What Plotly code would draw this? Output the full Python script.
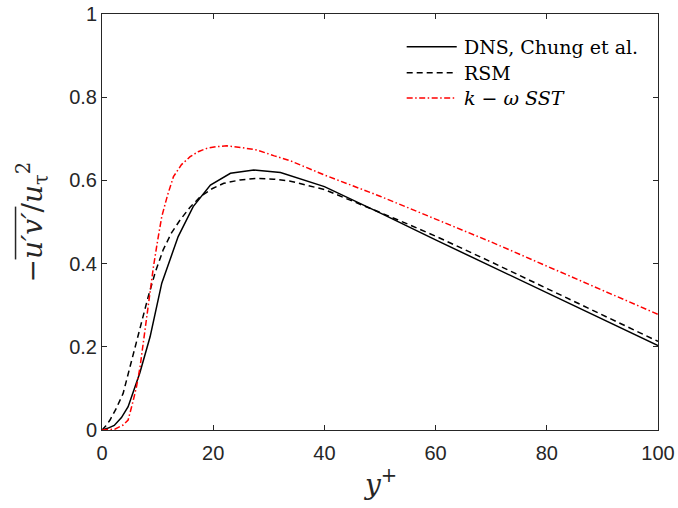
import plotly.graph_objects as go

# DNS, Chung et al.
dns_y = [0, 1, 2.2, 3.5, 4.7, 6.8, 8.65, 10.75, 13.7, 16.4, 19.5, 23.1, 27.3, 32.1,
         40, 50, 60, 70, 80, 90, 100]
dns_uv = [0, 0.004, 0.011, 0.03, 0.056, 0.137, 0.224, 0.353, 0.465, 0.537, 0.589, 0.617,
          0.625, 0.619, 0.585, 0.522, 0.457, 0.394, 0.330, 0.266, 0.203]

# RSM
rsm_y = [0, 0.7, 1.44, 2.5, 3.8, 5, 6.25, 7.3, 8.3, 9.6, 11, 12.5, 14.05, 15.8, 17.7,
         19.8, 21.9, 24.8, 27.9, 30.9, 33.9, 40, 45, 50, 55, 60, 70, 80, 90, 100]
rsm_uv = [0, 0.01, 0.024, 0.05, 0.088, 0.15, 0.216, 0.27, 0.32, 0.38, 0.433, 0.474,
          0.505, 0.535, 0.561, 0.58, 0.593, 0.601, 0.605, 0.603, 0.598, 0.578, 0.551,
          0.523, 0.495, 0.466, 0.404, 0.34, 0.277, 0.213]

# k-omega SST
sst_y = [0, 1, 2.3, 3.8, 4.7, 5.6, 6.2, 6.85, 7.45, 8.05, 8.65, 9.25, 10, 10.75, 11.8,
         12.85, 14.3, 15.85, 17.3, 18.85, 20.5, 22.45, 25, 27.9, 31, 33.9, 40, 50, 60,
         70, 80, 90, 100]
sst_uv = [0, 0.001, 0.002, 0.012, 0.024, 0.07, 0.104, 0.152, 0.215, 0.28, 0.337, 0.392,
          0.455, 0.513, 0.565, 0.609, 0.638, 0.657, 0.669, 0.677, 0.681, 0.683, 0.679,
          0.673, 0.659, 0.647, 0.613, 0.562, 0.507, 0.452, 0.394, 0.336, 0.278]

x_ticks = [0, 20, 40, 60, 80, 100]
y_ticks = [0, 0.2, 0.4, 0.6, 0.8, 1]
y_labels = ["0", "0.2", "0.4", "0.6", "0.8", "1"]

series = [
    ("DNS, Chung et al.", dns_y, dns_uv, "black", "solid"),
    ("RSM", rsm_y, rsm_uv, "black", "6px,4px"),
    ("<i>k</i> − <i>ω SST</i>", sst_y, sst_uv, "red", "6px,2.5px,1.5px,2.5px"),
]

serif = "DejaVu Serif"
sans = "Liberation Sans"
ink = "#262626"

fig = go.Figure()
for name, xs, ys, color, dash in series:
    fig.add_trace(go.Scatter(x=xs, y=ys, mode="lines", name=name, showlegend=False,
                             line=dict(color=color, width=1.5, dash=dash)))

axis_common = dict(showline=True, linecolor=ink, linewidth=1, mirror="ticks",
                   ticks="inside", ticklen=5, tickcolor=ink, showgrid=False,
                   zeroline=False, automargin=False,
                   tickfont=dict(family=sans, size=20, color=ink))

fig.update_layout(
    width=678, height=508,
    margin=dict(l=102, r=20, t=14, b=78),
    paper_bgcolor="white", plot_bgcolor="white",
    xaxis=dict(range=[0, 100], tickvals=x_ticks, ticktext=[str(v) for v in x_ticks],
               ticklabelstandoff=5, **axis_common),
    yaxis=dict(range=[0, 1], tickvals=y_ticks, ticktext=y_labels, **axis_common),
    showlegend=False,
)

# legend drawn by hand so the line samples are as long as in the original
leg_x0, leg_x1, leg_tx = 0.548, 0.638, 0.647
leg_rows = [0.921, 0.859, 0.798]
for (name, _, _, color, dash), ly in zip(series, leg_rows):
    fig.add_shape(type="line", xref="paper", yref="paper", x0=leg_x0, x1=leg_x1,
                  y0=ly, y1=ly, line=dict(color=color, width=1.5, dash=dash))
    fig.add_annotation(text=name, xref="paper", yref="paper", x=leg_tx, y=ly,
                       xanchor="left", yanchor="middle", showarrow=False,
                       font=dict(family=serif, size=19, color="black"))

# axis titles
fig.add_annotation(text="<i>y</i><sup>+</sup>", xref="paper", yref="paper",
                   x=0.5, y=-0.125, xanchor="center", yanchor="middle", showarrow=False,
                   font=dict(family=serif, size=28, color=ink))
fig.add_annotation(text="−<i>u′v′</i>/<i>u</i><sub>τ</sub><sup>2</sup>", xref="paper", yref="paper",
                   x=-0.125, y=0.5, xanchor="center", yanchor="middle", textangle=-90,
                   showarrow=False, font=dict(family=serif, size=28, color=ink))
# overline over u'v'
fig.add_shape(type="line", xref="paper", yref="paper",
              x0=-0.1555, x1=-0.1555, y0=0.41, y1=0.537,
              line=dict(color=ink, width=1.5))

fig.write_html("out.html", config={"displayModeBar": False},
               post_script="document.body.style.margin='0';")
